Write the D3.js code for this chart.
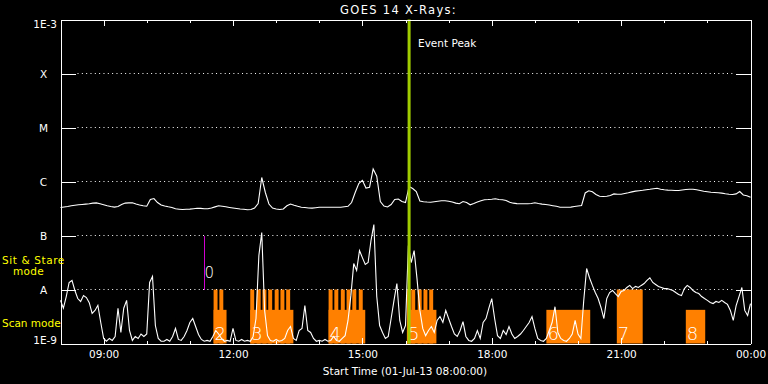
<!DOCTYPE html>
<meta charset="utf-8">
<script src="https://d3js.org/d3.v7.min.js" charset="utf-8"></script>
<style>
  body { margin: 0; background: #000; }
  svg { display: block; }
</style>
<body><div id="draw"></div></body>
<script>

  // GOES 14 X-ray flux, in units of 1e-9 W/m^2
  // long channel (1-8 A), one value every 5 minutes from 08:00
  var longFlux = [
    330,337,344,356,364,370,375,381,387,398,
    402,388,372,355,344,336,344,375,398,402,
    403,383,367,356,349,464,484,408,367,352,
    340,330,312,307,303,306,308,313,319,318,
    313,313,323,339,355,347,340,331,323,316,
    310,306,300,303,322,391,1186,626,383,323,
    310,303,310,355,383,363,347,333,330,323,
    322,327,333,334,334,334,334,334,334,340,
    347,408,626,918,1050,758,784,1700,1250,426,
    352,337,375,464,474,426,408,808,742,653,
    435,423,417,414,423,432,441,441,432,417,
    398,388,426,408,370,391,417,441,460,464,
    470,478,464,460,445,412,397,390,387,387,
    387,391,403,391,381,374,366,356,347,334,
    333,334,336,344,352,359,613,673,645,574,
    532,527,534,550,589,582,579,599,618,642,
    664,676,687,702,717,736,748,720,702,693,
    687,681,681,696,711,717,720,702,681,661,
    645,631,626,618,610,594,582,574,589,653,
    562,546,512
  ];
  // short channel (0.5-4 A), one value every 4 minutes from 08:00
  var shortFlux = [
    6.3,4.5,7.4,13.5,14.7,9.6,6.8,6.0,7.7,7.1,
    5.7,3.6,4.1,5.1,2.45,1.24,1.1,1.24,1.14,1.35,
    4.5,1.6,4.5,6.3,1.74,1.14,1.35,1.24,1.5,1.35,
    1.5,13.5,17.4,2.15,1.24,1.1,1.1,1.19,1.1,1.35,
    1.9,1.19,1.14,1.35,1.74,2.45,2.9,2.06,1.47,1.19,
    1.1,1.14,1.1,1.35,1.74,1.5,1.24,1.1,1.14,1.1,
    1.9,1.14,1.1,1.19,1.1,1.14,1.1,1.35,2.9,42.6,
    113,4.1,1.4,1.14,1.1,1.19,1.1,1.14,1.24,1.74,
    2.06,1.24,1.14,1.74,1.9,5.05,1.74,1.6,1.24,1.1,
    1.14,1.1,1.19,1.1,1.14,1.35,1.14,1.1,1.24,1.4,
    2.67,7.7,30.2,22.5,52.7,39,29,31.6,80.8,160,
    7.4,2.15,1.6,1.24,1.35,2.9,6.3,12.9,2.67,1.6,
    2.15,65,31.6,52.7,15.9,4.1,1.9,1.4,1.74,2.06,
    1.6,2.67,3.16,2.45,4.1,2.9,2.06,1.5,1.35,1.74,
    2.55,1.35,1.14,1.1,1.24,1.74,1.24,2.45,2.9,4.5,
    6.8,2.9,1.4,1.24,1.74,1.47,2.06,1.5,1.24,1.35,
    1.5,1.74,2.06,2.45,3.16,1.9,1.24,1.14,1.1,1.24,
    1.74,2.45,4.8,1.6,1.24,1.14,1.1,1.24,1.5,2.67,
    1.5,1.24,6.3,24.5,16.5,11.9,8.8,6.8,4.65,2.9,
    6.8,8.8,9.6,8.4,7.4,9.2,9.6,10.9,11.9,10.4,
    11.4,10.9,11.9,12.9,14.7,16.5,13.5,12.4,11.4,10.9,
    10.4,10.4,10.0,9.6,8.8,8.1,7.7,10.4,11.9,10.9,
    9.6,8.8,8.4,7.4,6.8,6.3,5.75,5.5,6.0,5.75,
    6.3,5.75,5.3,4.1,2.67,5.05,7.4,10.9,4.1,3.3,
    5.5
  ];

  var classLevels = [1e-3, 1e-4, 1e-5, 1e-6, 1e-7, 1e-8, 1e-9];
  var classLabels = ["1E-3", "X", "M", "C", "B", "A", "1E-9"];

  // observing runs (start / end, hh:mm on 01-Jul-13)
  var scans = [
    {id: "2", start: "11:33", end: "11:51", mode: "scan"},
    {id: "3", start: "12:24", end: "13:24", mode: "scan"},
    {id: "4", start: "14:13", end: "15:04", mode: "scan"},
    {id: "5", start: "16:02", end: "16:43", mode: "scan"},
    {id: "6", start: "19:16", end: "20:17", mode: "scan"},
    {id: "7", start: "20:54", end: "21:30", mode: "stare"},
    {id: "8", start: "22:30", end: "22:57", mode: "scan"}
  ];
  // short sit & stare exposures inside the scan runs
  var stareStarts = ["11:33","11:41",
    "12:24","12:33","12:41","12:49","12:58","13:06","13:14",
    "14:13","14:21","14:30","14:38","14:46","14:55",
    "16:02","16:08","16:17","16:25","16:33"];
  var stareMinutes = 5.5;
  var firstStare = {id: "0", time: "11:19"};
  var eventPeak = "16:05";

  var UNIT = 1e-9;
  var width = 768, height = 384;

  var t0 = new Date(Date.UTC(2013, 6, 1, 8, 0));
  var t1 = new Date(Date.UTC(2013, 6, 2, 0, 0));
  function at(hm) {
    var p = hm.split(":");
    return new Date(Date.UTC(2013, 6, 1, +p[0], +p[1]));
  }
  function addMin(d, m) { return new Date(d.getTime() + m * 60000); }

  var x = d3.scaleUtc().domain([t0, t1]).range([60.5, 750.5]);
  var y = d3.scaleLog().domain([1e-9, 1e-3]).range([343.5, 19.5]);

  var svg = d3.select("#draw").append("svg")
    .attr("width", width).attr("height", height)
    .style("background", "#000");

  var font = "'DejaVu Sans', sans-serif";

  // orange observing blocks
  var scanTop = 4.2e-9, stareTop = 1e-8;
  svg.append("g").selectAll("rect.run").data(scans).enter().append("rect")
    .attr("x", function(d){ return x(at(d.start)); })
    .attr("width", function(d){ return x(at(d.end)) - x(at(d.start)); })
    .attr("y", function(d){ return y(d.mode == "stare" ? stareTop : scanTop); })
    .attr("height", function(d){ return y(1e-9) - y(d.mode == "stare" ? stareTop : scanTop); })
    .attr("fill", "#ff8000");
  svg.append("g").selectAll("rect.stare").data(stareStarts).enter().append("rect")
    .attr("x", function(d){ return x(at(d)); })
    .attr("width", function(d){ return x(addMin(at(d), stareMinutes)) - x(at(d)); })
    .attr("y", y(stareTop))
    .attr("height", y(1e-9) - y(stareTop))
    .attr("fill", "#ff8000");

  // dotted class lines
  svg.append("g").selectAll("line").data(classLevels.slice(1, 6)).enter().append("line")
    .attr("x1", 77.5).attr("x2", 735)
    .attr("y1", function(d){ return y(d); }).attr("y2", function(d){ return y(d); })
    .attr("stroke", "#fff").attr("stroke-dasharray", "1,3.33");

  // flux curves
  var longLine = d3.line()
    .x(function(d, i){ return x(addMin(t0, i * 5)); })
    .y(function(d){ return y(Math.max(d * UNIT, 1e-9)); });
  var shortLine = d3.line()
    .x(function(d, i){ return x(addMin(t0, i * 4)); })
    .y(function(d){ return y(Math.max(d * UNIT, 1e-9)); });
  svg.append("path").attr("d", longLine(longFlux))
    .attr("fill", "none").attr("stroke", "#fff").attr("stroke-width", 1.1);
  svg.append("path").attr("d", shortLine(shortFlux))
    .attr("fill", "none").attr("stroke", "#fff").attr("stroke-width", 1.1);

  // first sit & stare marker
  svg.append("line")
    .attr("x1", Math.round(x(at(firstStare.time))) + 0.5).attr("x2", Math.round(x(at(firstStare.time))) + 0.5)
    .attr("y1", y(1e-7)).attr("y2", y(1e-8))
    .attr("stroke", "#d000d0").attr("stroke-width", 1.5)
    .attr("shape-rendering", "crispEdges");
  svg.append("text").text(firstStare.id)
    .attr("x", x(at(firstStare.time)) + 1).attr("y", 278)
    .attr("font-family", font).attr("font-weight", 200).attr("font-size", 15).attr("fill", "#fff");

  // run numbers
  svg.append("g").selectAll("text").data(scans).enter().append("text")
    .text(function(d){ return d.id; })
    .attr("x", function(d){ return x(at(d.start)) + 1; })
    .attr("y", 340)
    .attr("font-family", font).attr("font-weight", 200).attr("font-size", 18).attr("fill", "#fff");

  // event peak
  svg.append("line")
    .attr("x1", x(at(eventPeak))).attr("x2", x(at(eventPeak)))
    .attr("y1", y(1e-3)).attr("y2", y(1e-9))
    .attr("stroke", "#a0cc00").attr("stroke-width", 3);
  svg.append("text").text("Event Peak")
    .attr("x", 418).attr("y", 47)
    .attr("font-family", font).attr("font-size", 10.5).attr("fill", "#fff");

  // axes
  function styleAxis(g) {
    g.attr("color", "#fff").attr("font-family", font).attr("font-size", 10.5);
    g.selectAll("path, line").attr("shape-rendering", "crispEdges");
  }
  svg.append("g").attr("transform", "translate(0,343.5)")
    .call(d3.axisBottom(x).ticks(d3.utcHour.every(1)).tickSize(-3).tickSizeOuter(0).tickFormat(""))
    .call(styleAxis);
  svg.append("g").attr("transform", "translate(0,343.5)")
    .call(d3.axisBottom(x).ticks(d3.utcHour.every(3)).tickSize(-6).tickSizeOuter(0)
      .tickPadding(7).tickFormat(d3.utcFormat("%H:%M")))
    .call(styleAxis);
  svg.append("g").attr("transform", "translate(0,19.5)")
    .call(d3.axisTop(x).ticks(d3.utcHour.every(1)).tickSize(-3).tickSizeOuter(0).tickFormat(""))
    .call(styleAxis);
  svg.append("g").attr("transform", "translate(0,19.5)")
    .call(d3.axisTop(x).ticks(d3.utcHour.every(3)).tickSize(-6).tickSizeOuter(0).tickFormat(""))
    .call(styleAxis);

  var left = svg.append("g").attr("transform", "translate(60.5,0)")
    .call(d3.axisLeft(y).tickValues(classLevels).tickSize(-15).tickSizeOuter(0)
      .tickFormat(function(d, i){ return classLabels[i]; }))
    .call(styleAxis);
  left.selectAll("text")
    .attr("text-anchor", function(d, i){ return (i == 0 || i == 6) ? "end" : "middle"; })
    .attr("x", function(d, i){ return (i == 0 || i == 6) ? -3.5 : -17; })
    .attr("dy", function(d, i){ return i == 0 ? "7.5px" : i == 6 ? "-0.5px" : "3.8px"; });
  svg.append("g").attr("transform", "translate(750.5,0)")
    .call(d3.axisRight(y).tickValues(classLevels).tickSize(-15).tickSizeOuter(0).tickFormat(""))
    .call(styleAxis);

  // titles
  svg.append("text").text("GOES 14 X-Rays:")
    .attr("x", 457).attr("y", 14).attr("text-anchor", "end")
    .attr("font-family", font).attr("font-size", 11.5).attr("letter-spacing", 1.3).attr("fill", "#fff");
  svg.append("text").text("Start Time (01-Jul-13 08:00:00)")
    .attr("x", 405).attr("y", 375).attr("text-anchor", "middle")
    .attr("font-family", font).attr("font-size", 10.5).attr("fill", "#fff");

  // mode legend
  var modeLabels = [["Sit & Stare", 2, 264, 0.6], ["mode", 13, 275, 0.3], ["Scan mode", 2, 327, 0]];
  svg.append("g").selectAll("text").data(modeLabels).enter().append("text")
    .text(function(d){ return d[0]; })
    .attr("x", function(d){ return d[1]; }).attr("y", function(d){ return d[2]; })
    .attr("letter-spacing", function(d){ return d[3]; })
    .attr("font-family", font).attr("font-size", 10.5).attr("fill", "#ffff00");

</script>
